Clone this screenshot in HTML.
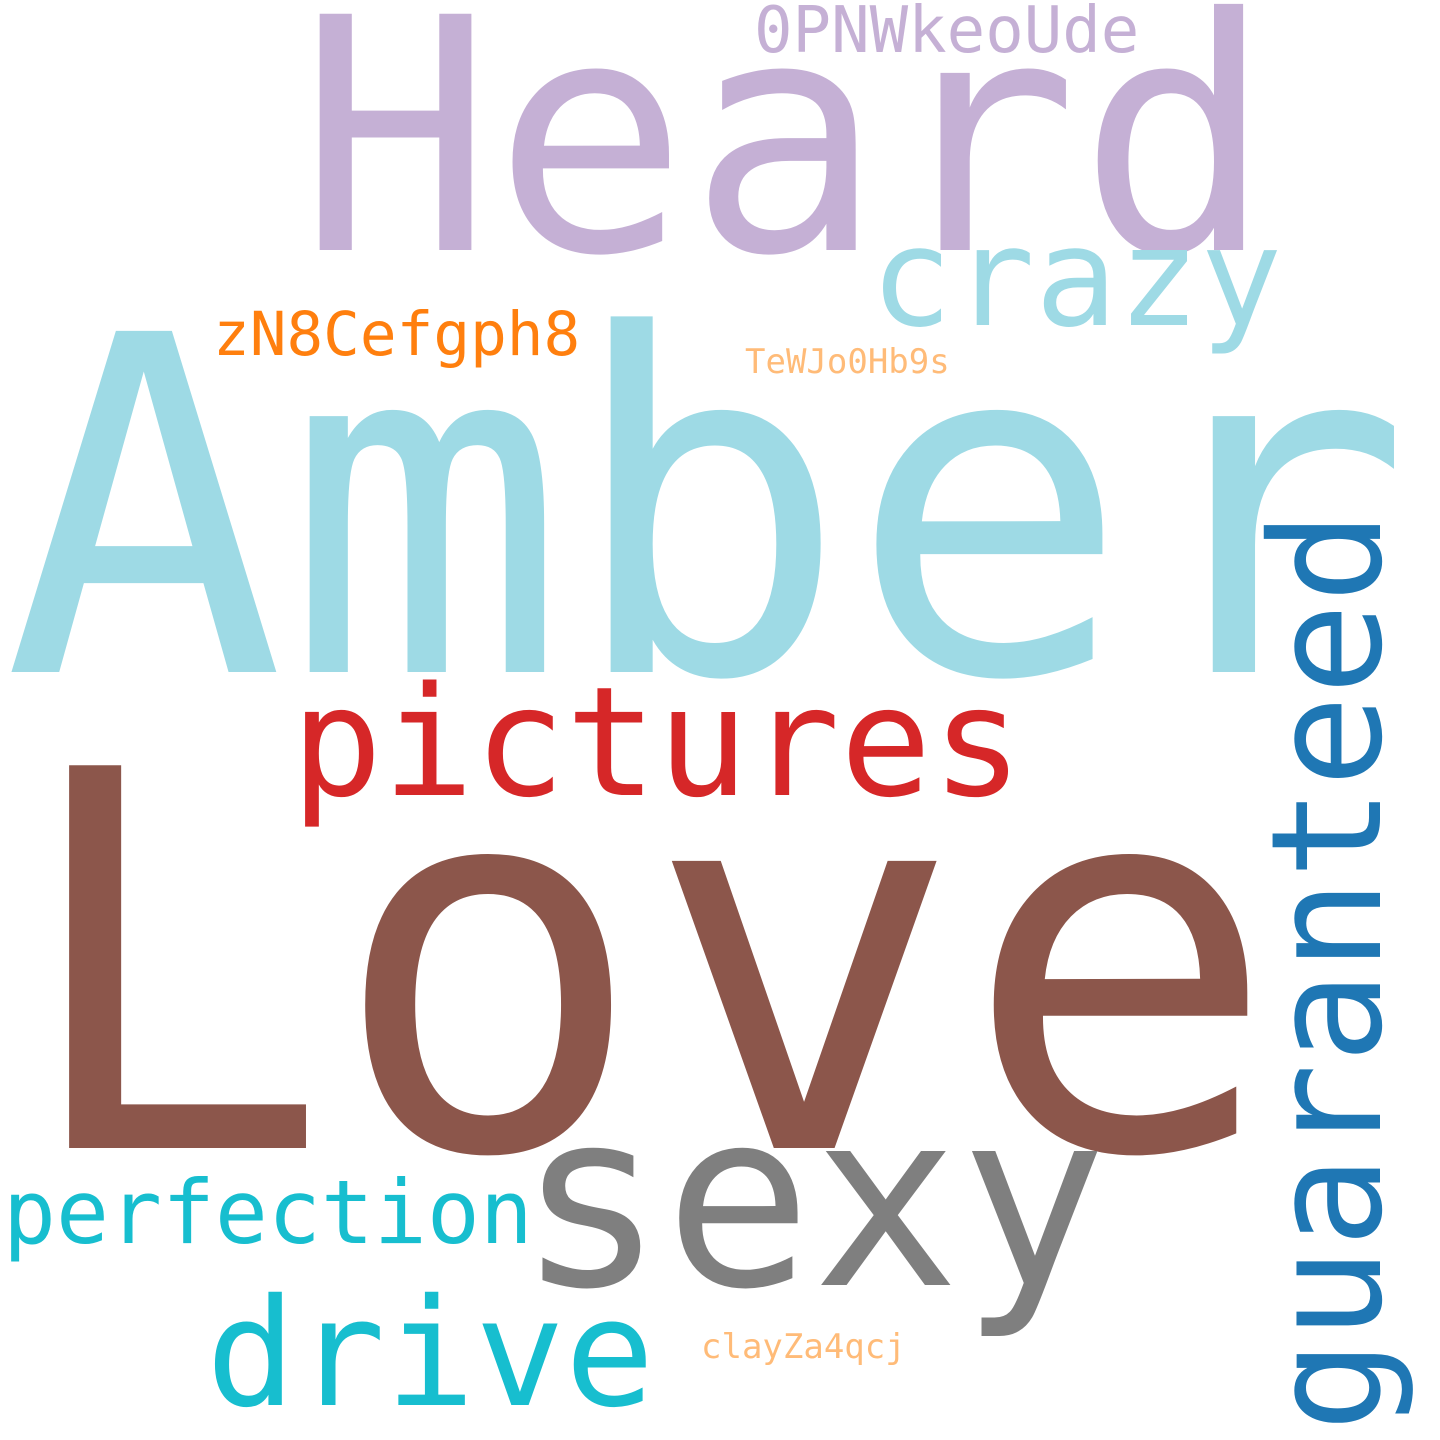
<!DOCTYPE html>
<html><head><meta charset="utf-8"><style>
html,body{margin:0;padding:0;background:#fff;}
svg{display:block;}
text{font-family:"DejaVu Sans Mono","Liberation Mono",monospace;}
</style></head><body>
<svg width="1440" height="1440" viewBox="0 0 1440 1440" xmlns="http://www.w3.org/2000/svg">
<rect width="1440" height="1440" fill="#fff"/>
<text x="298" y="250" font-size="324" fill="#c5b0d5">Heard</text>
<text x="754" y="52" font-size="64" fill="#c5b0d5">0PNWkeoUde</text>
<text x="870" y="325" font-size="137" fill="#9edae5">crazy</text>
<text x="213" y="355" font-size="61" fill="#ff7f0e">zN8Cefgph8</text>
<text x="745" y="373" font-size="34" fill="#ffbb78">TeWJo0Hb9s</text>
<text x="3" y="672" font-size="468" fill="#9edae5">Amber</text>
<text x="291" y="795" font-size="152" fill="#d62728">pictures</text>
<text x="14" y="1148" font-size="525" fill="#8c564b">Love</text>
<text x="517" y="1285" font-size="245" fill="#7f7f7f">sexy</text>
<text transform="translate(1380,1432) rotate(-90)" x="0" y="0" font-size="153" fill="#1f77b4">guaranteed</text>
<text x="3" y="1243" font-size="88" fill="#17becf">perfection</text>
<text x="206" y="1405" font-size="149" fill="#17becf">drive</text>
<text x="701" y="1358" font-size="34" fill="#ffbb78">clayZa4qcj</text>
</svg>
</body></html>
